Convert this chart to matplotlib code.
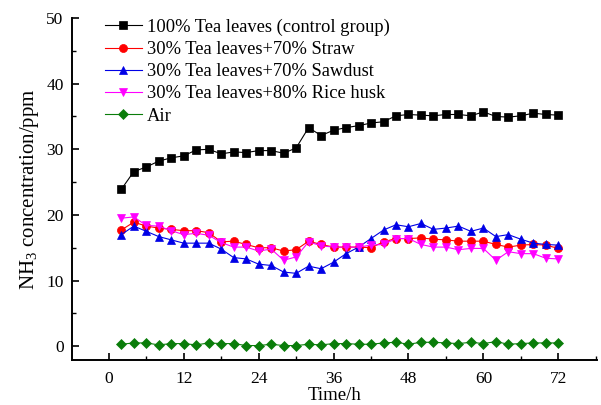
import matplotlib
matplotlib.use("Agg")
import matplotlib.pyplot as plt

plt.rcParams['font.family'] = ['Liberation Serif', 'DejaVu Serif']
plt.rcParams['mathtext.fontset'] = 'custom'
plt.rcParams['mathtext.rm'] = 'Liberation Serif'

time_h = list(range(2, 74, 2))

control = [23.9, 26.6, 27.3, 28.2, 28.7, 29.0, 29.9, 30.0, 29.3, 29.6, 29.5, 29.8,
           29.8, 29.4, 30.2, 33.3, 32.1, 32.9, 33.3, 33.6, 34.0, 34.2, 35.1, 35.3,
           35.2, 35.1, 35.3, 35.3, 35.1, 35.7, 35.0, 34.9, 35.1, 35.5, 35.3, 35.2]
straw = [17.7, 18.9, 18.3, 18.0, 17.8, 17.6, 17.6, 17.3, 15.9, 16.0, 15.5, 15.0,
         15.0, 14.5, 14.7, 16.0, 15.5, 15.1, 15.1, 15.1, 15.0, 15.9, 16.4, 16.4,
         16.5, 16.3, 16.2, 16.0, 16.0, 16.0, 15.5, 15.1, 15.4, 15.5, 15.4, 14.9]
sawdust = [17.0, 18.3, 17.5, 16.7, 16.2, 15.7, 15.7, 15.7, 14.8, 13.5, 13.3, 12.5,
           12.3, 11.3, 11.1, 12.2, 11.8, 12.8, 14.1, 15.1, 16.4, 17.7, 18.5, 18.2,
           18.7, 17.8, 18.0, 18.3, 17.5, 18.0, 16.7, 17.0, 16.3, 15.7, 15.5, 15.4]
rice_husk = [19.5, 19.7, 18.4, 18.3, 17.6, 17.0, 17.2, 16.9, 15.8, 15.1, 15.1, 14.5,
             14.8, 13.1, 13.6, 15.9, 15.3, 15.1, 15.1, 15.1, 15.4, 15.5, 16.4, 16.4,
             15.5, 15.1, 15.1, 14.7, 14.9, 14.9, 13.1, 14.4, 14.1, 14.1, 13.4, 13.3]
air = [0.3, 0.5, 0.5, 0.2, 0.4, 0.4, 0.2, 0.5, 0.4, 0.4, 0.1, 0.1,
       0.3, 0.1, 0.1, 0.3, 0.2, 0.4, 0.4, 0.3, 0.3, 0.5, 0.6, 0.3,
       0.6, 0.6, 0.5, 0.4, 0.6, 0.4, 0.7, 0.3, 0.4, 0.5, 0.5, 0.5]

labels = ["100% Tea leaves (control group)",
          "30% Tea leaves+70% Straw",
          "30% Tea leaves+70% Sawdust",
          "30% Tea leaves+80% Rice husk",
          "Air"]

fig = plt.figure(figsize=(6.01, 4.05), dpi=100)
ax = fig.add_axes([72/601, 1-360/405, (597-72)/601, (360-18)/405])

styles = [
    (control, 's', '#000000'),
    (straw, 'o', '#ff0000'),
    (sawdust, '^', '#0000e6'),
    (rice_husk, 'v', '#ff00ff'),
    (air, 'D', '#0a7d0a'),
]
for (vals, m, c), lab in zip(styles, labels):
    ms = 5.8 if m != 'D' else 5.0
    ax.plot(time_h, vals, marker=m, color=c, markersize=ms, linewidth=0.8,
            markeredgewidth=0.5, label=lab)

ax.set_xlim(-5.9, 78.2)
ax.set_ylim(-2.1, 50)
ax.set_xticks(range(0, 73, 12))
ax.set_xticks(range(6, 79, 12), minor=True)
ax.set_yticks(range(0, 51, 10))
ax.set_yticks(range(5, 50, 10), minor=True)

for s in ['top', 'right']:
    ax.spines[s].set_visible(False)
for s in ['left', 'bottom']:
    ax.spines[s].set_linewidth(1.4)

ax.tick_params(axis='both', which='major', direction='in', length=5, width=1.2,
               labelsize=12.5)
ax.tick_params(axis='x', which='major', pad=8)
ax.tick_params(axis='y', which='major', pad=6)
ax.tick_params(axis='both', which='minor', direction='in', length=3, width=1.0)

ax.set_xlabel("Time/h", fontsize=13.5, labelpad=0)
ax.set_ylabel("NH$_3$ concentration/ppm", fontsize=15, labelpad=4)

leg = ax.legend(loc='upper left', bbox_to_anchor=(0.048, 1.02), frameon=False,
                fontsize=13.3, handlelength=2.0, handletextpad=0.3,
                labelspacing=0.28, borderaxespad=0.0)

fig.savefig("out.png", dpi=100)
